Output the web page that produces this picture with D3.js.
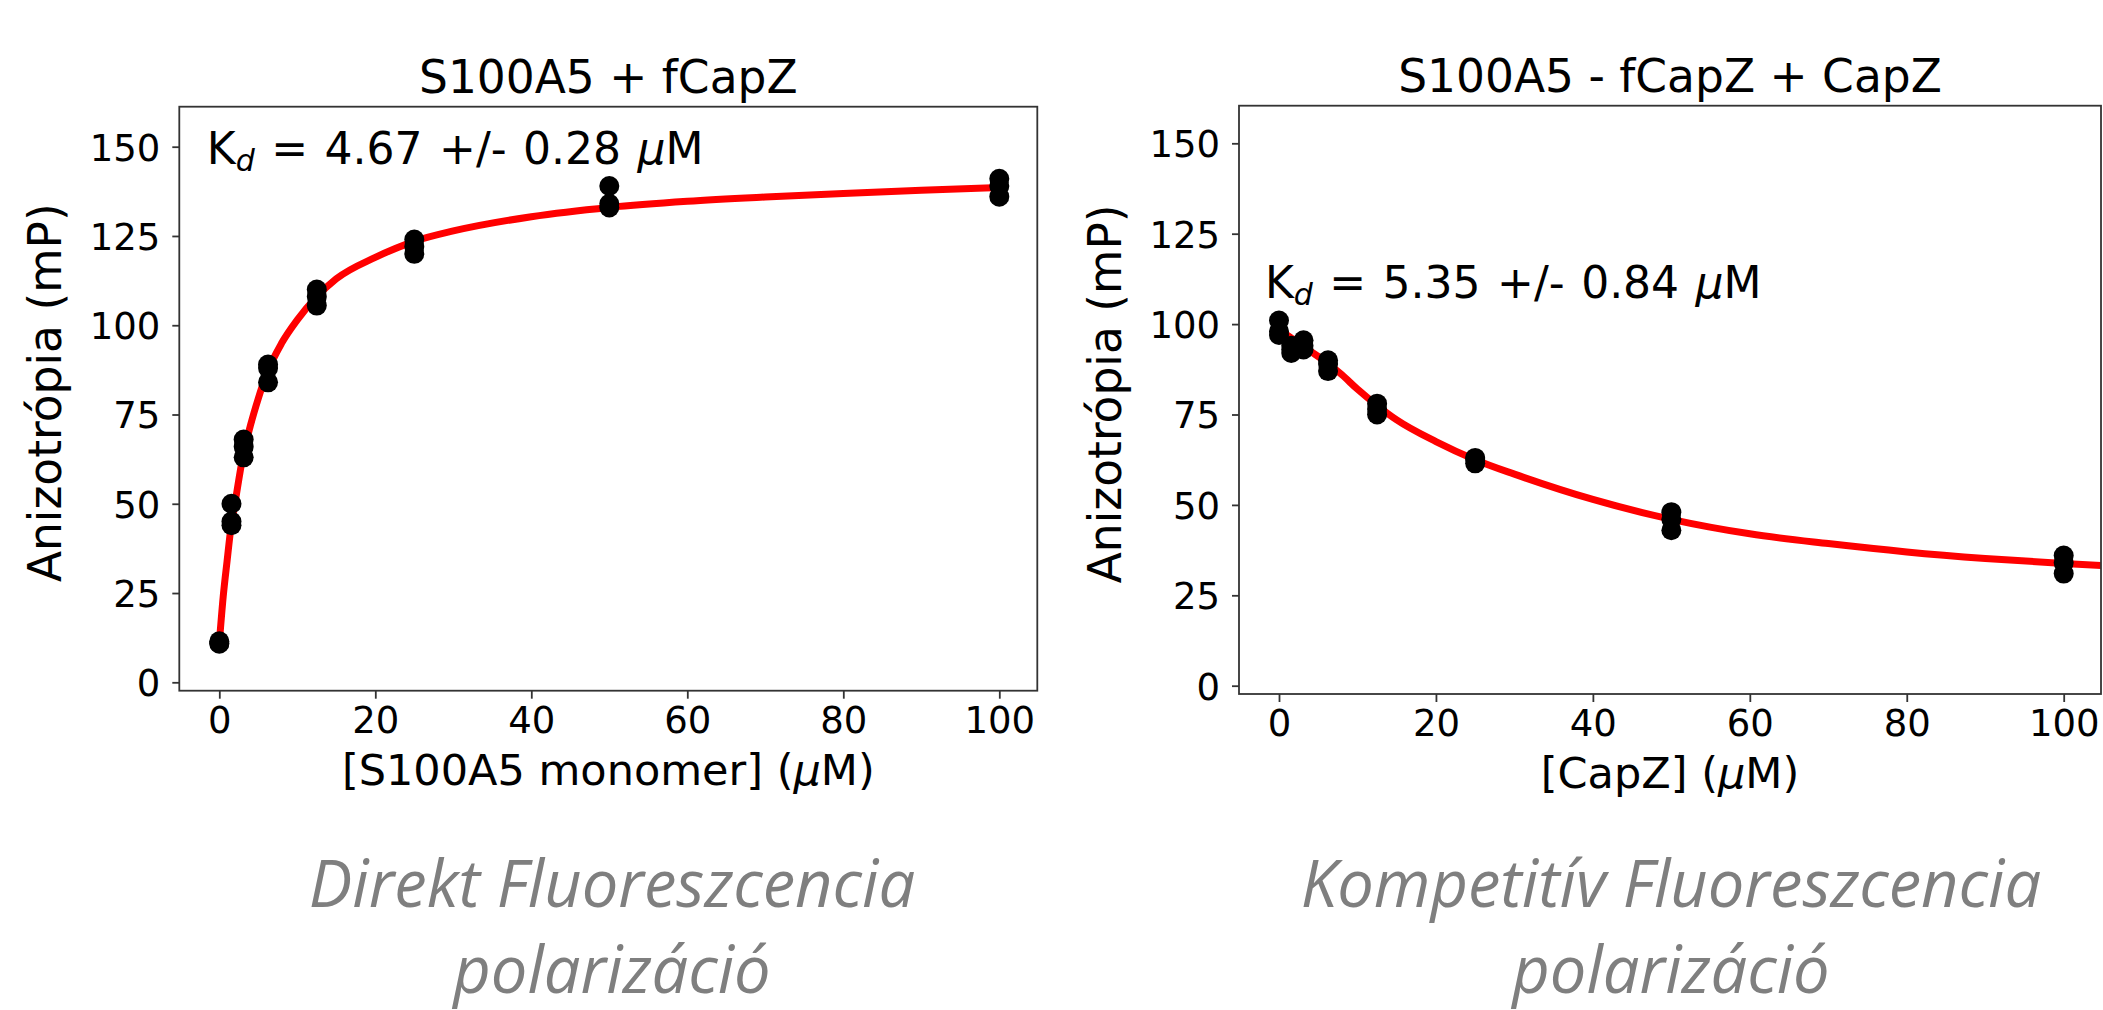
<!DOCTYPE html>
<html lang="en">
  <head>
    <meta charset="utf-8" />
    <title>Fluoreszcencia polarizáció</title>
    <script src="https://cdnjs.cloudflare.com/ajax/libs/d3/7.8.5/d3.min.js"></script>
    <style>
      body {
        margin: 0;
        background: #ffffff;
      }
      svg {
        display: block;
      }
      .plot text {
        font-family: "DejaVu Sans", sans-serif;
        fill: #000;
      }
      .caption {
        font-family: "Open Sans", "Lato", sans-serif;
        font-style: italic;
        fill: #7f7f7f;
      }
    </style>
  </head>
  <body>
    <svg id="chart" width="2103" height="1010"></svg>

    <script>
      // --- data ---
      const concentrations = [0, 1.5625, 3.125, 6.25, 12.5, 25, 50, 100];

      // direct titration: S100A5 + fCapZ (three replicates)
      const directRep1 = [11.5, 50, 68, 89, 110, 124, 139, 141];
      const directRep2 = [10.8, 45, 66, 88, 108, 122, 134, 139];
      const directRep3 = [11, 44, 63, 84, 105.5, 120, 133, 136];

      // fitted curve, direct
      const directFitX = [0, 0.5, 1, 1.5, 2, 3, 4, 5, 6, 8, 10, 12.5, 15, 20, 25, 30, 40, 50, 60, 70, 80, 90, 100];
      const directFitY = [11, 24, 34, 43.5, 50, 63, 72, 79.5, 86, 95, 101.5, 108, 113, 119, 123.5, 126.4, 130.4, 133.0, 134.7, 135.9, 136.9, 137.8, 138.6];

      // competition: S100A5 - fCapZ + CapZ (three replicates)
      const compRep1 = [101, 94, 95.5, 90, 78, 63, 48, 36];
      const compRep2 = [98, 93, 94, 89, 76.5, 62.5, 46, 34];
      const compRep3 = [97, 92, 93, 87, 75, 61.5, 43, 31];

      // fitted curve, competition
      const compFitX = [0, 1, 2, 3, 4, 6, 8, 10, 12.5, 15, 20, 25, 30, 40, 50, 60, 70, 80, 90, 100, 106];
      const compFitY = [98.5, 97, 95.5, 94, 92.5, 89.5, 86, 82, 77.5, 73.5, 67.5, 62.5, 58.5, 51.5, 46, 42, 39.3, 37, 35.2, 33.8, 33.1];

      const xTicks = [0, 20, 40, 60, 80, 100];
      const yTicks = [0, 25, 50, 75, 100, 125, 150];

      const titles = ["S100A5 + fCapZ", "S100A5 - fCapZ + CapZ"];
      const xLabels = ["[S100A5 monomer] (", "[CapZ] ("];
      const yLabel = "Anizotrópia (mP)";
      const kdTexts = [" = 4.67 +/- 0.28 ", " = 5.35 +/- 0.84 "];
      const captionLine1 = ["Direkt Fluoreszcencia", "Kompetitív Fluoreszcencia"];
      const captionLine2 = ["polarizáció", "polarizáció"];

      const svg = d3.select("#chart");

      // box edges and tick anchors for each panel
      const panels = [
        {
          box: { x0: 179.3, x1: 1037.3, y0: 106.7, y1: 690.7 },
          xr: [219.3, 999.3],
          yr: [682.3, 146.7],
          reps: [directRep1, directRep2, directRep3],
          fitX: directFitX,
          fitY: directFitY,
          kdPos: [-1.6, 145.1],
          captionX: 612,
        },
        {
          box: { x0: 1239, x1: 2101, y0: 105.7, y1: 694 },
          xr: [1279, 2063.7],
          yr: [685.7, 143.3],
          reps: [compRep1, compRep2, compRep3],
          fitX: compFitX,
          fitY: compFitY,
          kdPos: [-1.8, 107.3],
          captionX: 1671,
        },
      ];

      panels.forEach((p, i) => {
        const b = p.box;
        const x = d3.scaleLinear().domain([0, 100]).range(p.xr);
        const y = d3.scaleLinear().domain([0, 150]).range(p.yr);
        const cx = (b.x0 + b.x1) / 2;

        const g = svg.append("g").attr("class", "plot");

        const clipId = "clip" + i;
        g.append("clipPath")
          .attr("id", clipId)
          .append("rect")
          .attr("x", b.x0)
          .attr("y", b.y0)
          .attr("width", b.x1 - b.x0)
          .attr("height", b.y1 - b.y0);

        // axes
        g.append("g")
          .attr("transform", `translate(0,${b.y1})`)
          .call(d3.axisBottom(x).tickValues(xTicks).tickSize(8).tickPadding(6))
          .call((a) => a.select(".domain").remove())
          .call((a) => a.selectAll("line").attr("stroke", "#333").attr("stroke-width", 1.8))
          .call((a) => a.selectAll("text").attr("font-size", 37).attr("dy", "0.76em"));

        g.append("g")
          .attr("transform", `translate(${b.x0},0)`)
          .call(d3.axisLeft(y).tickValues(yTicks).tickSize(7).tickPadding(12))
          .call((a) => a.select(".domain").remove())
          .call((a) => a.selectAll("line").attr("stroke", "#333").attr("stroke-width", 1.8))
          .call((a) => a.selectAll("text").attr("font-size", 37).attr("dy", "0.36em"));

        // fitted curve
        const line = d3
          .line()
          .x((d) => x(d[0]))
          .y((d) => y(d[1]))
          .curve(d3.curveMonotoneX);

        g.append("path")
          .datum(d3.zip(p.fitX, p.fitY))
          .attr("clip-path", `url(#${clipId})`)
          .attr("fill", "none")
          .attr("stroke", "#ff0000")
          .attr("stroke-width", 7)
          .attr("d", line);

        // measured points
        const pts = [];
        p.reps.forEach((rep) =>
          rep.forEach((v, j) => pts.push([concentrations[j], v]))
        );
        g.append("g")
          .selectAll("circle")
          .data(pts)
          .join("circle")
          .attr("cx", (d) => x(d[0]))
          .attr("cy", (d) => y(d[1]))
          .attr("r", 10)
          .attr("fill", "#000");

        // frame
        g.append("rect")
          .attr("x", b.x0)
          .attr("y", b.y0)
          .attr("width", b.x1 - b.x0)
          .attr("height", b.y1 - b.y0)
          .attr("fill", "none")
          .attr("stroke", "#333")
          .attr("stroke-width", 1.8);

        // title
        g.append("text")
          .attr("x", cx)
          .attr("y", b.y0 - 13.5)
          .attr("text-anchor", "middle")
          .attr("font-size", 45.5)
          .text(titles[i]);

        // x label
        const xl = g
          .append("text")
          .attr("x", cx)
          .attr("y", b.y1 + 94)
          .attr("text-anchor", "middle")
          .attr("font-size", 43);
        xl.append("tspan").text(xLabels[i]);
        xl.append("tspan").attr("font-style", "italic").text("\u03bc");
        xl.append("tspan").text("M)");

        // y label
        g.append("text")
          .attr("transform", `translate(${b.x0 - 118},${(b.y0 + b.y1) / 2 - 6}) rotate(-90)`)
          .attr("text-anchor", "middle")
          .attr("font-size", 45.5)
          .text(yLabel);

        // Kd annotation
        const kd = g
          .append("text")
          .attr("x", x(p.kdPos[0]))
          .attr("y", y(p.kdPos[1]))
          .attr("font-size", 44)
          .attr("word-spacing", 2.5);
        kd.append("tspan").text("K");
        kd.append("tspan")
          .attr("font-style", "italic")
          .attr("font-size", 30)
          .attr("dy", 7)
          .text("d");
        kd.append("tspan").attr("dy", -7).text(kdTexts[i]);
        kd.append("tspan").attr("font-style", "italic").text("\u03bc");
        kd.append("tspan").text("M");

        // caption under the plot
        svg.append("text")
          .attr("class", "caption")
          .attr("x", p.captionX)
          .attr("y", 907)
          .attr("text-anchor", "middle")
          .attr("font-size", 65)
          .text(captionLine1[i]);
        svg.append("text")
          .attr("class", "caption")
          .attr("x", p.captionX)
          .attr("y", 993)
          .attr("text-anchor", "middle")
          .attr("font-size", 65)
          .text(captionLine2[i]);
      });
    </script>
  </body>
</html>
